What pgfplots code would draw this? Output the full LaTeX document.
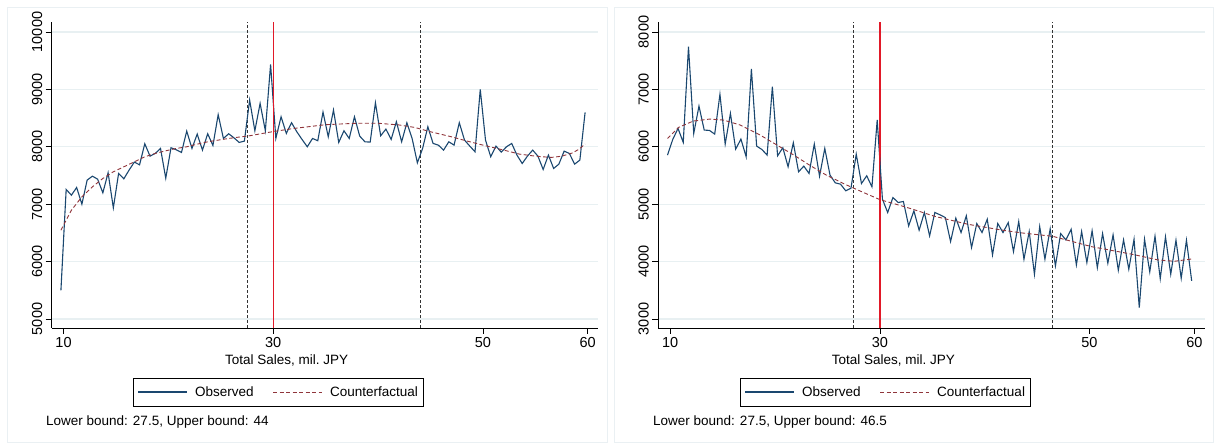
\documentclass[border=0pt]{standalone}
\usepackage{pgfplots}
\pgfplotsset{compat=1.18}
\usepackage{fontspec}
\setmainfont{Liberation Sans}

\definecolor{obs}{RGB}{26,71,111}
\definecolor{cf}{RGB}{144,53,59}
\definecolor{cutred}{RGB}{225,25,40}
\definecolor{gridc}{RGB}{232,240,242}
\definecolor{framec}{RGB}{234,240,243}

\newcommand{\fs}{\fontsize{13.5}{16}\selectfont}
\newcommand{\ft}{\fontsize{14.5}{16}\selectfont}

% left panel
\pgfplotstableread{
x y
9.75 5500
10.25 7256
10.75 7157
11.25 7291
11.75 7000
12.25 7419
12.75 7488
13.25 7436
13.75 7198
14.25 7547
14.75 6936
15.25 7535
15.75 7442
16.25 7593
16.75 7733
17.25 7686
17.75 8052
18.25 7837
18.75 7884
19.25 7971
19.75 7453
20.25 7983
20.75 7948
21.25 7901
21.75 8273
22.25 7971
22.75 8221
23.25 7942
23.75 8227
24.25 8023
24.75 8560
25.25 8145
25.75 8227
26.25 8157
26.75 8076
27.25 8099
27.75 8814
28.25 8279
28.75 8756
29.25 8279
29.75 9436
30.25 8145
30.75 8523
31.25 8233
31.75 8419
32.25 8262
32.75 8128
33.25 8000
33.75 8145
34.25 8105
34.75 8605
35.25 8174
35.75 8640
36.25 8076
36.75 8279
37.25 8145
37.75 8523
38.25 8186
38.75 8087
39.25 8081
39.75 8767
40.25 8192
40.75 8308
41.25 8128
41.75 8436
42.25 8087
42.75 8419
43.25 8145
43.75 7721
44.25 7971
44.75 8349
45.25 8058
45.75 8029
46.25 7942
46.75 8087
47.25 8029
47.75 8419
48.25 8116
48.75 8012
49.25 7913
49.75 9000
50.25 8116
50.75 7826
51.25 8012
51.75 7907
52.25 8000
52.75 8058
53.25 7855
53.75 7709
54.25 7837
54.75 7942
55.25 7837
55.75 7605
56.25 7855
56.75 7622
57.25 7698
57.75 7924
58.25 7884
58.75 7698
59.25 7767
59.75 8599
}\obsA

\pgfplotstableread{
x y
9.75 6546
10.75 6895
11.75 7128
12.75 7302
13.75 7448
14.75 7564
15.75 7651
16.75 7738
17.75 7826
18.75 7884
19.75 7930
20.75 7971
21.75 8000
22.75 8046
23.75 8087
24.75 8116
25.75 8145
26.75 8169
27.75 8192
30 8265
32 8320
35 8385
38 8410
40 8410
42 8380
43.5 8337
45 8262
47 8174
48.5 8099
50 8029
52 7942
53.5 7872
55 7837
56.5 7814
57.5 7835
58.5 7890
59.2 7960
59.75 8050
}\cfA

% right panel
\pgfplotstableread{
x y
9.75 5855
10.25 6128
10.75 6320
11.25 6076
11.75 7744
12.25 6233
12.75 6709
13.25 6291
13.75 6285
14.25 6221
14.75 6913
15.25 6047
15.75 6581
16.25 5959
16.75 6134
17.25 5826
17.75 7355
18.25 6012
18.75 5953
19.25 5855
19.75 7047
20.25 5843
20.75 5983
21.25 5651
21.75 6070
22.25 5564
22.75 5663
23.25 5535
23.75 6047
24.25 5488
24.75 5971
25.25 5506
25.75 5372
26.25 5349
26.75 5233
27.25 5279
27.75 5872
28.25 5360
28.75 5494
29.25 5302
29.75 6467
30.25 5087
30.75 4855
31.25 5116
31.75 5029
32.25 5047
32.75 4622
33.25 4884
33.75 4547
34.25 4855
34.75 4448
35.25 4855
35.75 4814
36.25 4767
36.75 4349
37.25 4756
37.75 4506
38.25 4797
38.75 4244
39.25 4663
39.75 4506
40.25 4738
40.75 4116
41.25 4663
41.75 4506
42.25 4680
42.75 4174
43.25 4698
43.75 4041
44.25 4523
44.75 3779
45.25 4610
45.75 4041
46.25 4570
46.75 3924
47.25 4488
47.75 4378
48.25 4564
48.75 3942
49.25 4523
49.75 3983
50.25 4535
50.75 3895
51.25 4488
51.75 3971
52.25 4465
52.75 3849
53.25 4378
53.75 3866
54.25 4390
54.75 3198
55.25 4390
55.75 3820
56.25 4442
56.75 3703
57.25 4430
57.75 3779
58.25 4372
58.75 3709
59.25 4372
59.75 3663
}\obsB

\pgfplotstableread{
x y
9.75 6145
10.8 6337
12.2 6448
13.8 6483
15.1 6465
16.7 6378
18.6 6203
20.2 6029
21.8 5855
23.3 5680
24.9 5506
26.7 5345
28.3 5215
30 5080
31.9 4980
33 4920
35.2 4790
38.4 4650
41.6 4550
43.5 4500
46.5 4440
50.2 4260
54 4130
56.5 4030
58.1 4005
59.75 4045
}\cfB

\pgfplotsset{
  rdd/.style={
    anchor=south west, width=546.5pt, height=306pt, scale only axis,
    axis lines*=left,
    axis line style={line width=0.7pt},
    xmin=8.87, xmax=61,
    xtick={10,30,50,60},
    scaled ticks=false,
    tick align=outside, major tick length=6pt,
    tick style={black, line width=0.6pt},
    ymajorgrids, grid style={gridc, line width=1.2pt},
    ticklabel style={font=\ft},
    yticklabel style={rotate=90, anchor=south},
    /pgf/number format/assume math mode=true,
    /pgf/number format/1000 sep={},
    xlabel={Total Sales, mil.\ JPY},
    xlabel style={font=\fs, at={(axis description cs:0.43,-0.105)}, anchor=center},
  },
}

\begin{document}
\begin{tikzpicture}[x=1pt, y=1pt]
\useasboundingbox (0,0) rectangle (1219,446);
\draw[framec, line width=0.8pt] (7,4) rectangle (607,439);
\draw[framec, line width=0.8pt] (614,4) rectangle (1213,439);

\begin{axis}[rdd, at={(51.7pt,118pt)},
  ymin=4843, ymax=10174, ytick={5000,6000,7000,8000,9000,10000}]
  \addplot[draw=black!80, line width=0.6pt, dash pattern=on 3pt off 2pt] coordinates {(27.5,4843) (27.5,10174)};
  \addplot[draw=black!80, line width=0.6pt, dash pattern=on 3pt off 2pt] coordinates {(44,4843) (44,10174)};
  % cutoff at 30, drawn as a narrow filled band
  \addplot[fill=cutred, draw=none] coordinates {(29.935,4843) (30.065,4843) (30.065,10174) (29.935,10174)};
  \addplot[draw=obs, line width=1.1pt] table[x=x, y=y] {\obsA};
  \addplot[draw=cf, line width=0.9pt, dash pattern=on 4pt off 2.5pt] table[x=x, y=y] {\cfA};
\end{axis}

\begin{axis}[rdd, at={(658.3pt,118pt)},
  ymin=2843, ymax=8174, ytick={3000,4000,5000,6000,7000,8000}]
  \addplot[draw=black!80, line width=0.6pt, dash pattern=on 3pt off 2pt] coordinates {(27.5,2843) (27.5,8174)};
  \addplot[draw=black!80, line width=0.6pt, dash pattern=on 3pt off 2pt] coordinates {(46.5,2843) (46.5,8174)};
  \addplot[fill=cutred, draw=none] coordinates {(29.935,2843) (30.065,2843) (30.065,8174) (29.935,8174)};
  \addplot[draw=obs, line width=1.1pt] table[x=x, y=y] {\obsB};
  \addplot[draw=cf, line width=0.9pt, dash pattern=on 4pt off 2.5pt] table[x=x, y=y] {\cfB};
\end{axis}

% cutoff marker repeated on top (x = 30 in both panels)
\fill[cutred] (272.56,118) rectangle (273.86,424);
\fill[cutred] (879.16,118) rectangle (880.46,424);

% legends
\foreach \dx in {0,607} {
  \begin{scope}[xshift=\dx]
    \draw[black, line width=0.7pt] (133,40) rectangle (423,68);
    \draw[obs, line width=1.1pt] (138,54) -- (187,54);
    \node[anchor=base west, font=\fs, inner sep=0pt] at (195,49) {Observed};
    \draw[cf, line width=0.9pt, dash pattern=on 4pt off 2.5pt] (273,54) -- (322,54);
    \node[anchor=base west, font=\fs, inner sep=0pt] at (330,49) {Counterfactual};
  \end{scope}
}
\node[anchor=base west, font=\fs, inner sep=0pt] at (46,20) {Lower bound: 27.5, Upper bound: 44};
\node[anchor=base west, font=\fs, inner sep=0pt] at (653,20) {Lower bound: 27.5, Upper bound: 46.5};
\end{tikzpicture}
\end{document}
